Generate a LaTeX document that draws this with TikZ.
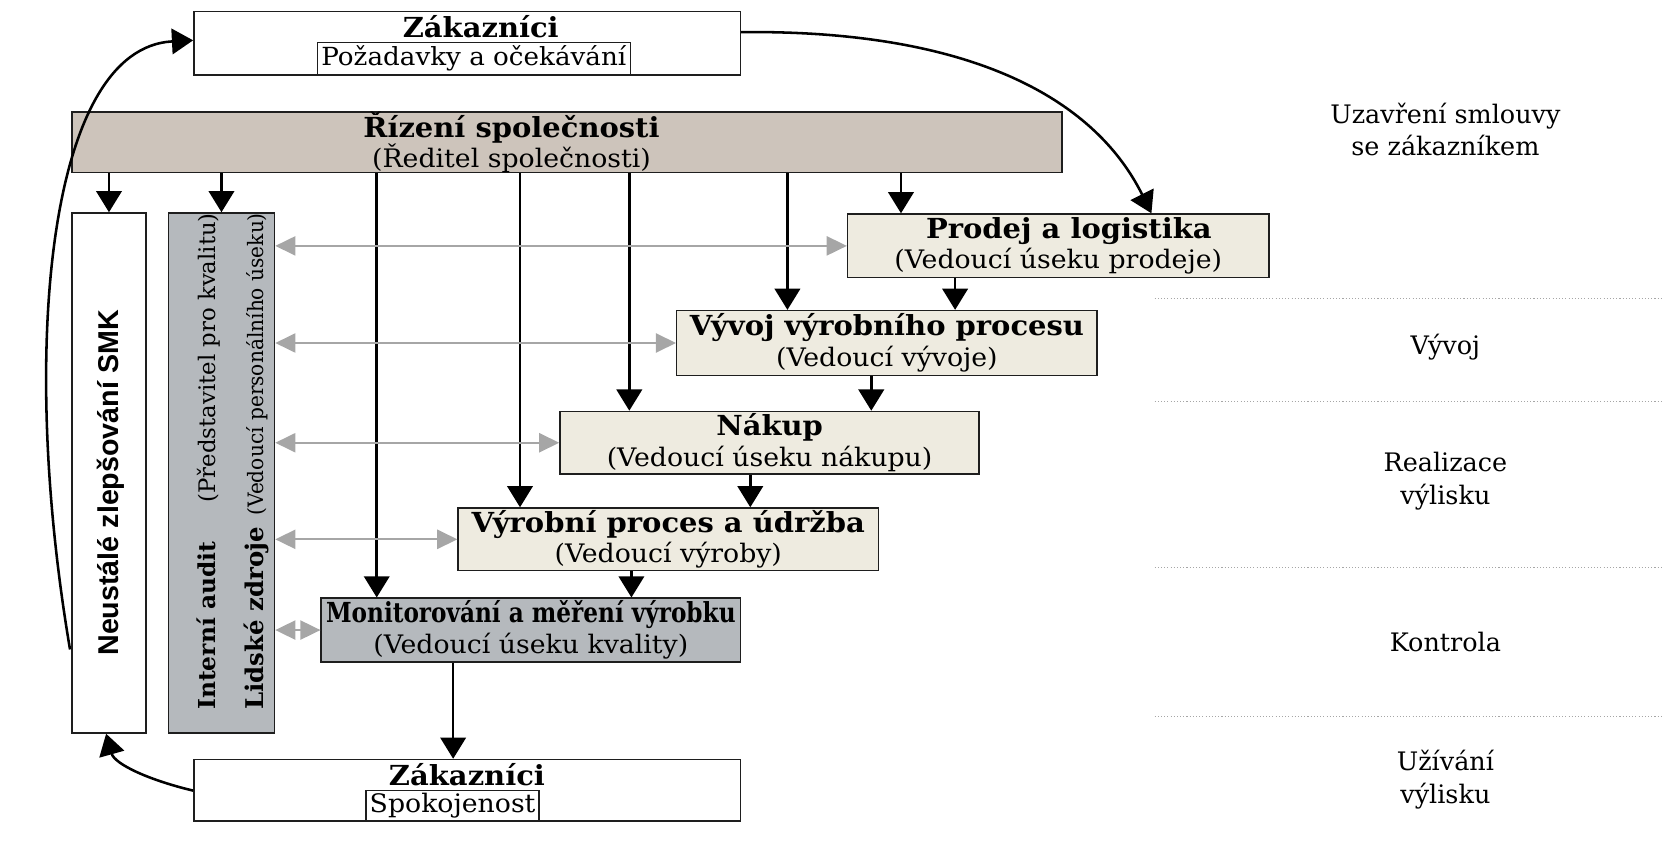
\documentclass[tikz,border=0pt]{standalone}
\usepackage{fontspec}
\setmainfont{DejaVu Serif}[FakeStretch=1.05]
\newfontfamily\plainserif{DejaVu Serif}
\newfontfamily\condsans{Liberation Sans}
\usetikzlibrary{arrows.meta,calc}
\definecolor{tanfill}{RGB}{205,196,187}
\definecolor{beigefill}{RGB}{238,235,224}
\definecolor{grayfill}{RGB}{181,185,189}
\definecolor{linkgray}{RGB}{166,166,166}
\definecolor{edge}{RGB}{30,30,30}
\newcommand{\ttl}[1]{{\fontsize{26}{29}\selectfont\bfseries #1}}
\begin{document}
\begin{tikzpicture}[x=1pt,y=-1pt,
  box/.style={draw=edge, line width=1.4pt, inner sep=0pt, anchor=north west},
  unit/.style={box, fill=beigefill, align=center, font=\fontsize{24}{29}\selectfont},
  arr/.style={line width=2.4pt, -{Triangle[width=24pt,length=20pt]}},
  garr/.style={draw=linkgray, line width=2pt, {Triangle[width=18pt,length=19pt]}-{Triangle[width=18pt,length=19pt]}},
  phase/.style={align=center, font=\fontsize{24}{31}\plainserif},
  sep/.style={draw=gray!70, line width=1pt, dotted}]
\useasboundingbox (0,0) rectangle (1568,812);

% customers: requirements
\node[box, fill=white, minimum width=515pt, minimum height=60pt] (zt) at (182,10) {};
\node[font=\fontsize{26}{26}\selectfont\bfseries] (ztt) at (453,25) {Zákazníci};
\node[draw=edge, line width=1.2pt, fill=white, minimum width=295pt, minimum height=30pt, inner sep=0pt,
      font=\fontsize{23.5}{23.5}\selectfont] (zti) at (446.5,55) {Požadavky a očekávání};

% company management
\node[box, fill=tanfill, minimum width=933pt, minimum height=57pt] (rz) at (67,105) {};
\node[font=\fontsize{24}{28}\selectfont, align=center] (rzt) at (482,134)
  {\ttl{Řízení společnosti}\\(Ředitel společnosti)};

% side columns
\node[box, fill=white, minimum width=70pt, minimum height=490pt] (nz) at (67,200) {};
\node[rotate=90, font=\fontsize{27}{27}\condsans\bfseries] (nzt) at (104,455) {Neustálé zlepšování SMK};
\node[box, fill=grayfill, minimum width=100pt, minimum height=490pt] (ia) at (158,200) {};
\node[rotate=90, anchor=base west, inner sep=0pt, font=\plainserif] (ia1) at (203,669)
  {\makebox[468pt][l]{{\fontsize{22}{22}\selectfont\bfseries Interní audit}\hfill{\fontsize{21.5}{21.5}\selectfont(Představitel pro kvalitu)}}};
\node[rotate=90, anchor=base west, inner sep=0pt, font=\plainserif] (ia2) at (248,669)
  {\makebox[468pt][l]{{\fontsize{23}{23}\selectfont\bfseries Lidské zdroje}\hfill\scalebox{0.95}[1]{\fontsize{20}{20}\selectfont(Vedoucí personálního úseku)}}};

% process units
\node[unit, minimum width=397pt, minimum height=60pt] (pl) at (798,201)
  {\hspace*{20pt}\ttl{Prodej a logistika}\\(Vedoucí úseku prodeje)};
\node[unit, minimum width=396pt, minimum height=61pt] (vv) at (637,292)
  {\ttl{Vývoj výrobního procesu}\\(Vedoucí vývoje)};
\node[unit, minimum width=395pt, minimum height=59pt] (nk) at (527,387)
  {\ttl{Nákup}\\(Vedoucí úseku nákupu)};
\node[unit, minimum width=396pt, minimum height=59pt] (vp) at (431,478)
  {\ttl{Výrobní proces a údržba}\\(Vedoucí výroby)};
\node[unit, fill=grayfill, minimum width=395pt, minimum height=60pt] (mm) at (302,563)
  {\scalebox{0.8}[1]{\ttl{Monitorování a měření výrobku}}\\(Vedoucí úseku kvality)};

% customers: satisfaction
\node[box, fill=white, minimum width=515pt, minimum height=58pt] (zb) at (182,715) {};
\node[font=\fontsize{26}{26}\selectfont\bfseries] (zbt) at (440,730) {Zákazníci};
\node[draw=edge, line width=1.2pt, fill=white, minimum width=163pt, minimum height=28pt, inner sep=0pt,
      font=\fontsize{24}{24}\selectfont] (zbi) at (426.5,759) {Spokojenost};

% management arrows
\coordinate (a3) at ($(mm.north west)+(53,0)$);
\coordinate (a4) at ($(vp.north west)+(59,0)$);
\coordinate (a5) at ($(nk.north west)+(66,0)$);
\coordinate (a6) at ($(vv.north west)+(105,0)$);
\coordinate (a7) at ($(pl.north west)+(51,0)$);
\draw[arr] (rz.south -| nz.north) -- (nz.north);
\draw[arr] (rz.south -| ia.north) -- (ia.north);
\foreach \t in {a3,a4,a5,a6,a7} \draw[arr] (rz.south -| \t) -- (\t);

% process chain
\coordinate (c1) at ($(pl.south west)+(102,0)$);
\coordinate (c2) at ($(vv.south west)+(184,0)$);
\coordinate (c3) at ($(nk.south west)+(180,0)$);
\coordinate (c4) at ($(vp.south west)+(164,0)$);
\coordinate (c5) at ($(mm.south west)+(125,0)$);
\draw[arr] (c1) -- (c1 |- vv.north);
\draw[arr] (c2) -- (c2 |- nk.north);
\draw[arr] (c3) -- (c3 |- vp.north);
\draw[arr] (c4) -- (c4 |- mm.north);
\draw[arr] (c5) -- (c5 |- zb.north);

% support links
\foreach \u in {pl,vv,nk,vp,mm}
  \draw[garr] (ia.east |- \u.west) -- (\u.west);

% feedback loop
\coordinate (q1) at ($(zt.north east)!0.33!(zt.south east)$);
\coordinate (q2) at ($(pl.north west)+(287,0)$);
\draw[arr] (q1) .. controls (910,28) and (1030,90) .. (q2);
\coordinate (l1) at ($(nz.north west)+(-1,412)$);
\coordinate (l2) at ($(zt.north west)+(0,28)$);
\draw[arr] (l1) .. controls (18,330) and (45,45) .. (l2);
\coordinate (b1) at ($(zb.north west)+(0,30)$);
\coordinate (b2) at ($(nz.south west)+(33,0)$);
\draw[arr] (b1) .. controls (140,735) and (108,720) .. (b2);

% phases
\node[phase] (p1) at (1362,122) {Uzavření smlouvy\\se zákazníkem};
\node[phase] (p2) at (1362,327) {Vývoj};
\node[phase] (p3) at (1362,453) {Realizace\\výlisku};
\node[phase] (p4) at (1362,605) {Kontrola};
\node[phase] (p5) at (1362,735) {Užívání\\výlisku};
\foreach \y in {281,378,535,675}
  \draw[sep] (1088,\y) -- (1568,\y);
\end{tikzpicture}
\end{document}
